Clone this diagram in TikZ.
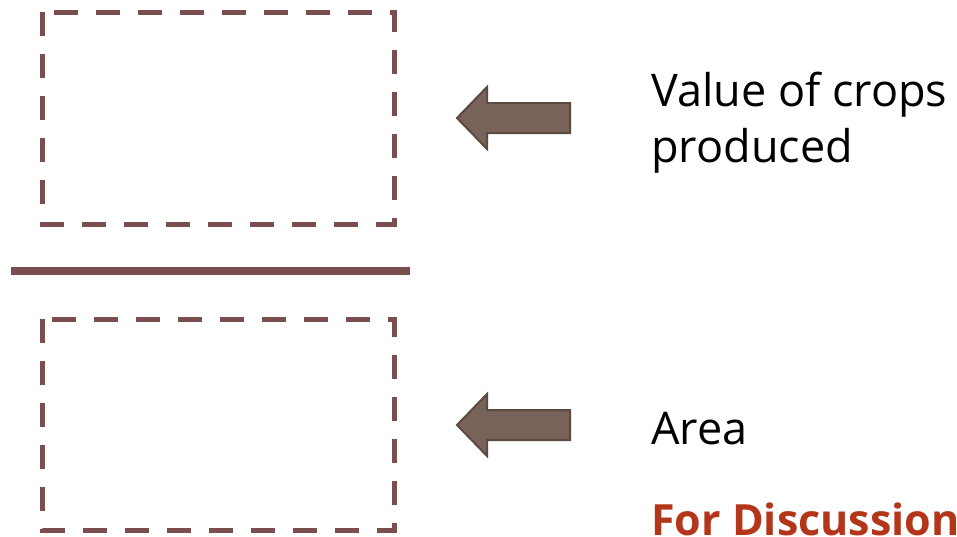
\documentclass[tikz,border=0pt]{standalone}
\usepackage{fontspec}
\setmainfont{Open Sans}
\definecolor{boxcol}{HTML}{7A4E4E}
\definecolor{arrfill}{HTML}{77635A}
\definecolor{arrdraw}{HTML}{5B4A40}
\definecolor{redtxt}{HTML}{B4361A}
\tikzset{
  dashbox/.style={draw=boxcol, line width=5pt, dash pattern=on 24pt off 18pt},
  divider/.style={draw=boxcol, line width=8pt},
  bigarrow/.style={fill=arrfill, draw=arrdraw, line width=2pt, line join=miter},
  label/.style={anchor=base west, inner sep=0pt, font=\fontsize{45}{53}\selectfont},
  redlabel/.style={label, text=redtxt, font=\fontsize{43}{51}\selectfont\bfseries}
}
\begin{document}
\begin{tikzpicture}[x=1pt,y=-1pt]
\useasboundingbox (0,0) rectangle (957,536);
\clip (0,0) rectangle (957,536);
\draw[dashbox] (42,12) rectangle (394,224);
\draw[divider] (11,271) -- (410,271);
\draw[dashbox] (42,319) rectangle (394,530);
\draw[bigarrow] (570,103) -- (487,103) -- (487,87) -- (457,118) -- (487,149) -- (487,133) -- (570,133) -- cycle;
\draw[bigarrow] (570,410) -- (487,410) -- (487,394) -- (457,425) -- (487,456) -- (487,440) -- (570,440) -- cycle;
\node[label] (t1) at (651,106) {Value of crops};
\node[label] (t2) at (651,162) {produced};
\node[label] (t3) at (651,444) {Area};
\node[redlabel] (t4) at (651,535) {For Discussion};
\end{tikzpicture}
\end{document}
